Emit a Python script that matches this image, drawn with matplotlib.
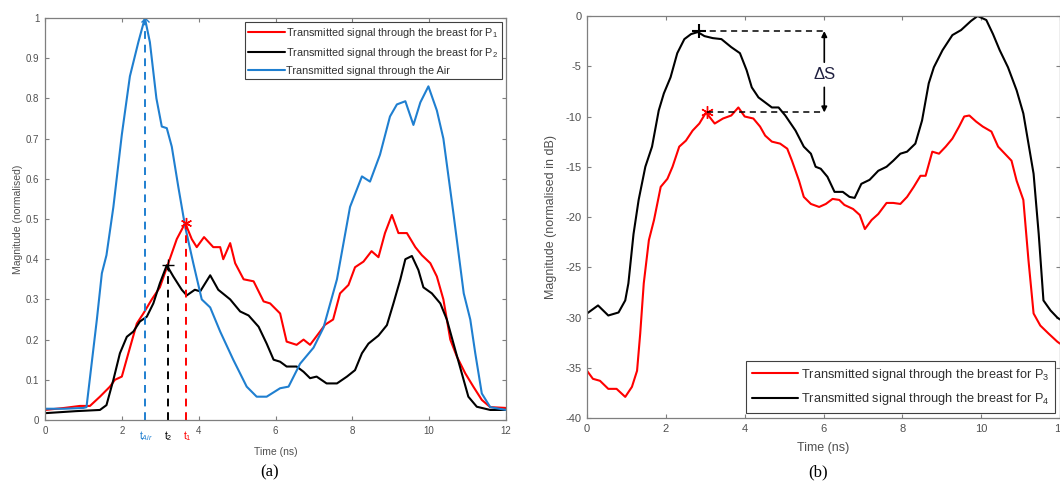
import matplotlib
matplotlib.use("Agg")
import matplotlib.pyplot as plt
import numpy as np

plt.rcParams['font.family'] = ['Liberation Sans', 'DejaVu Sans']
plt.rcParams['mathtext.fontset'] = 'custom'
plt.rcParams['mathtext.rm'] = 'Liberation Sans'
plt.rcParams['mathtext.it'] = 'Liberation Sans:italic'
plt.rcParams['lines.solid_joinstyle'] = 'round'
plt.rcParams['lines.solid_capstyle'] = 'round'

# ---------------- Panel (a) data ----------------
air_t = [0, 0.5, 1.0, 1.08, 1.35, 1.48, 1.6, 1.78, 2.0, 2.21, 2.43, 2.6, 2.73, 2.9, 3.04, 3.17,
         3.3, 3.47, 3.65, 3.86, 4.08, 4.3, 4.56, 4.9, 5.25, 5.51, 5.77, 6.12, 6.34, 6.64, 6.99,
         7.25, 7.6, 7.94, 8.25, 8.46, 8.72, 8.98, 9.16, 9.38, 9.59, 9.77, 9.98, 10.2, 10.37,
         10.63, 10.9, 11.07, 11.2, 11.37, 11.59, 12]
air_v = [0.028, 0.028, 0.03, 0.032, 0.25, 0.365, 0.41, 0.53, 0.71, 0.855, 0.94, 1.0, 0.94, 0.8,
         0.73, 0.726, 0.68, 0.58, 0.48, 0.39, 0.30, 0.28, 0.22, 0.15, 0.083, 0.058, 0.058, 0.079,
         0.083, 0.14, 0.18, 0.23, 0.35, 0.53, 0.606, 0.593, 0.66, 0.755, 0.785, 0.793, 0.734,
         0.79, 0.83, 0.77, 0.70, 0.515, 0.315, 0.25, 0.166, 0.066, 0.032, 0.025]

p1_t = [0, 0.5, 0.91, 1.17, 1.43, 1.69, 1.82, 2.0, 2.17, 2.39, 2.56, 2.78, 2.99, 3.21, 3.43,
        3.65, 3.82, 3.95, 4.14, 4.38, 4.56, 4.64, 4.82, 4.95, 5.17, 5.43, 5.69, 5.86, 6.12,
        6.29, 6.55, 6.73, 6.9, 7.12, 7.29, 7.5, 7.68, 7.9, 8.07, 8.29, 8.5, 8.68, 8.85, 9.03,
        9.2, 9.42, 9.64, 9.81, 10.03, 10.2, 10.37, 10.55, 10.72, 10.94, 11.15, 11.37, 11.59, 12]
p1_v = [0.025, 0.03, 0.035, 0.035, 0.058, 0.083, 0.10, 0.108, 0.166, 0.24, 0.265, 0.30, 0.33,
        0.39, 0.45, 0.49, 0.45, 0.43, 0.455, 0.43, 0.43, 0.40, 0.44, 0.39, 0.35, 0.345, 0.295,
        0.29, 0.265, 0.195, 0.187, 0.20, 0.187, 0.215, 0.237, 0.25, 0.315, 0.336, 0.38, 0.394,
        0.42, 0.405, 0.465, 0.51, 0.465, 0.465, 0.43, 0.41, 0.39, 0.357, 0.30, 0.20, 0.158,
        0.116, 0.083, 0.05, 0.032, 0.03]

p2_t = [0, 0.8, 1.43, 1.6, 1.78, 1.95, 2.13, 2.3, 2.47, 2.65, 2.82, 2.99, 3.17, 3.34, 3.56,
        3.69, 3.9, 4.04, 4.3, 4.51, 4.82, 5.08, 5.3, 5.56, 5.77, 5.95, 6.12, 6.29, 6.55, 6.73,
        6.9, 7.07, 7.33, 7.6, 7.86, 8.07, 8.25, 8.42, 8.68, 8.9, 9.07, 9.25, 9.38, 9.55, 9.72,
        9.85, 10.07, 10.29, 10.46, 10.68, 10.85, 11.02, 11.24, 11.59, 12]
p2_v = [0.017, 0.022, 0.025, 0.037, 0.10, 0.166, 0.207, 0.22, 0.245, 0.257, 0.29, 0.34, 0.385,
        0.357, 0.324, 0.31, 0.324, 0.32, 0.36, 0.324, 0.30, 0.27, 0.26, 0.232, 0.19, 0.15, 0.145,
        0.133, 0.133, 0.12, 0.104, 0.108, 0.091, 0.091, 0.108, 0.124, 0.166, 0.19, 0.21, 0.236,
        0.29, 0.35, 0.40, 0.408, 0.373, 0.33, 0.315, 0.29, 0.25, 0.174, 0.116, 0.058, 0.033,
        0.025, 0.025]

peak_a_t = [2.6, 3.2, 3.68]          # t_Air, t_2, t_1
peak_a_v = [1.0, 0.385, 0.49]
peak_a_lbl = ['t$_{Air}$', 't$_2$', 't$_1$']

# ---------------- Panel (b) data ----------------
p4_t = [0, 0.28, 0.54, 0.8, 0.97, 1.05, 1.18, 1.31, 1.48, 1.65, 1.82, 1.95, 2.12, 2.29, 2.47,
        2.64, 2.81, 2.98, 3.19, 3.41, 3.66, 3.88, 4.05, 4.18, 4.35, 4.52, 4.69, 4.86, 5.03,
        5.29, 5.5, 5.68, 5.8, 5.93, 6.1, 6.28, 6.49, 6.66, 6.79, 6.96, 7.17, 7.39, 7.6, 7.77,
        7.95, 8.12, 8.33, 8.5, 8.67, 8.8, 9.02, 9.27, 9.49, 9.74, 9.91, 10.13, 10.3, 10.47,
        10.68, 10.9, 11.07, 11.2, 11.33, 11.46, 11.58, 11.76, 11.93, 12]
p4_v = [-29.6, -28.8, -29.8, -29.5, -28.3, -26.6, -21.7, -18.3, -15.0, -13.0, -9.4, -7.7, -6.1,
        -3.7, -2.3, -1.8, -1.6, -2.0, -2.2, -2.3, -3.1, -3.7, -5.4, -7.1, -8.1, -8.6, -9.1,
        -9.1, -9.9, -11.4, -13.0, -13.7, -15.0, -15.2, -16.0, -17.5, -17.5, -18.0, -18.1,
        -16.7, -16.3, -15.4, -15.0, -14.4, -13.7, -13.5, -12.7, -10.4, -6.7, -5.1, -3.4, -1.9,
        -1.4, -0.5, 0.0, -0.4, -1.8, -3.4, -5.1, -7.4, -9.7, -12.7, -15.7, -21.7, -28.3, -29.3,
        -30.0, -30.2]

p3_t = [0, 0.15, 0.33, 0.54, 0.75, 0.97, 1.14, 1.27, 1.35, 1.44, 1.57, 1.7, 1.87, 2.04, 2.17,
        2.34, 2.51, 2.68, 2.85, 3.02, 3.24, 3.45, 3.66, 3.84, 4.0, 4.22, 4.39, 4.52, 4.69, 4.9,
        5.08, 5.2, 5.38, 5.5, 5.68, 5.89, 6.06, 6.23, 6.4, 6.53, 6.75, 6.92, 7.05, 7.22, 7.39,
        7.6, 7.77, 7.95, 8.12, 8.29, 8.46, 8.59, 8.76, 8.93, 9.1, 9.27, 9.44, 9.57, 9.7, 9.87,
        10.04, 10.26, 10.43, 10.6, 10.77, 10.9, 11.07, 11.2, 11.33, 11.5, 11.71, 11.93, 12]
p3_v = [-35.3, -36.1, -36.3, -37.1, -37.1, -37.9, -36.9, -35.3, -31.6, -26.6, -22.3, -20.3,
        -17.0, -16.2, -15.0, -13.0, -12.4, -11.4, -10.7, -9.6, -10.7, -10.2, -9.9, -9.1, -10.0,
        -10.2, -11.0, -11.9, -12.5, -12.7, -13.2, -14.4, -16.4, -18.0, -18.7, -19.0, -18.7,
        -18.2, -18.3, -18.8, -19.2, -19.8, -21.2, -20.3, -19.7, -18.6, -18.6, -18.7, -18.0,
        -17.0, -15.9, -15.9, -13.5, -13.7, -13.0, -12.2, -11.0, -10.0, -9.9, -10.5, -11.0,
        -11.5, -13.0, -13.7, -14.4, -16.4, -18.3, -24.3, -29.6, -30.8, -31.6, -32.4, -32.6]

peak_b_t = [2.85, 3.05]   # P4 peak (+), P3 peak (*)
peak_b_v = [-1.5, -9.6]
ds_x = 6.02

RED = '#ff0000'
BLACK = '#000000'
BLUE = '#1f7fd0'
GREY = '#7f7f7f'
TXT = '#505050'
ASTER = (6, 2, 0)

fig = plt.figure(figsize=(10.6, 4.86), dpi=100)
W, H = 1060, 486


def style(ax, xlim, ylim, xticks, yticks, ylbls, fs):
    ax.set_xlim(*xlim)
    ax.set_ylim(*ylim)
    ax.set_xticks(xticks)
    ax.set_yticks(yticks)
    ax.set_yticklabels(ylbls)
    ax.tick_params(direction='in', top=True, right=True, length=3, width=0.8,
                   colors=GREY, labelcolor=TXT, labelsize=fs, pad=4)
    for s in ax.spines.values():
        s.set_color(GREY)
        s.set_linewidth(0.9)


# ---------- (a) ----------
ax1 = fig.add_axes([45 / W, 1 - 420 / H, (506 - 45) / W, (420 - 18) / H])
ax1.plot(p1_t, p1_v, color=RED, lw=1.5, label='Transmitted signal through the breast for P$_1$')
ax1.plot(p2_t, p2_v, color=BLACK, lw=1.5, label='Transmitted signal through the breast for P$_2$')
ax1.plot(air_t, air_v, color=BLUE, lw=1.5, label='Transmitted signal through the Air')
vcols = [BLUE, BLACK, RED]
marks = ['x', '+', ASTER]
msz = [6, 8, 8]
for t, v, c, m, lb, s in zip(peak_a_t, peak_a_v, vcols, marks, peak_a_lbl, msz):
    ax1.plot([t, t], [0, v], color=c, lw=1.4, ls=(0, (4, 3)))
    ax1.plot([t], [v], marker=m, color=c, ms=s, mew=1.0, ls='none')
    ax1.text(t + 0.02, -0.022, lb, color=c, fontsize=7.5, ha='center', va='top')
style(ax1, (0, 12), (0, 1), range(0, 13, 2), np.arange(0, 1.01, 0.1),
      ['0', '0.1', '0.2', '0.3', '0.4', '0.5', '0.6', '0.7', '0.8', '0.9', '1'], 7)
ax1.set_xlabel('Time (ns)', color=TXT, fontsize=7.5, labelpad=8)
ax1.set_ylabel('Magnitude (normalised)', color=TXT, fontsize=7.5, labelpad=2)
leg1 = ax1.legend(loc='upper right', fontsize=7.8, frameon=True, fancybox=False,
                  edgecolor='#404040', framealpha=1, handlelength=3.4, handletextpad=0.1,
                  borderpad=0.35, labelspacing=0.55, borderaxespad=0.35)
leg1.get_frame().set_linewidth(0.8)
for t in leg1.get_texts():
    t.set_color('#303030')

# ---------- (b) ----------
ax2 = fig.add_axes([587 / W, 1 - 418 / H, (1060 - 587) / W, (418 - 16) / H])
ax2.plot(p3_t, p3_v, color=RED, lw=1.5, label='Transmitted signal through the breast for P$_3$')
ax2.plot(p4_t, p4_v, color=BLACK, lw=1.5, label='Transmitted signal through the breast for P$_4$')
ax2.plot([peak_b_t[0]], [peak_b_v[0]], marker='+', color=BLACK, ms=10, mew=1.5, ls='none')
ax2.plot([peak_b_t[1]], [peak_b_v[1]], marker=ASTER, color=RED, ms=9, mew=1.0, ls='none')
for t, v in zip(peak_b_t, peak_b_v):
    ax2.plot([t, ds_x], [v, v], color=BLACK, lw=1.1, ls=(0, (4, 3)))
ax2.text(ds_x, -5.85, '\u0394S', fontsize=12, ha='center', va='center', color='#202040')
ax2.annotate('', xy=(ds_x, peak_b_v[0]), xytext=(ds_x, -4.6),
             arrowprops=dict(arrowstyle='-|>', color=BLACK, lw=1.2, mutation_scale=8,
                             shrinkA=0, shrinkB=0))
ax2.annotate('', xy=(ds_x, peak_b_v[1]), xytext=(ds_x, -7.1),
             arrowprops=dict(arrowstyle='-|>', color=BLACK, lw=1.2, mutation_scale=8,
                             shrinkA=0, shrinkB=0))
style(ax2, (0, 12), (-40, 0), range(0, 13, 2), range(-40, 1, 5),
      [str(v) for v in range(-40, 1, 5)], 8)
ax2.set_xlabel('Time (ns)', color=TXT, fontsize=9, labelpad=6)
ax2.set_ylabel('Magnitude (normalised in dB)', color=TXT, fontsize=9, labelpad=6)
leg2 = ax2.legend(loc='lower right', fontsize=9.2, frameon=True, fancybox=False,
                  edgecolor='#404040', framealpha=1, handlelength=3.6, handletextpad=0.2,
                  borderpad=0.45, labelspacing=0.65, borderaxespad=0.4)
leg2.get_frame().set_linewidth(0.8)
for t in leg2.get_texts():
    t.set_color('#303030')

fig.text(270 / W, 1 - 472 / H, '(a)', family='Liberation Serif', fontsize=12,
         ha='center', va='center')
fig.text(818 / W, 1 - 472 / H, '(b)', family='Liberation Serif', fontsize=12,
         ha='center', va='center')

fig.savefig('out.png', dpi=100)
